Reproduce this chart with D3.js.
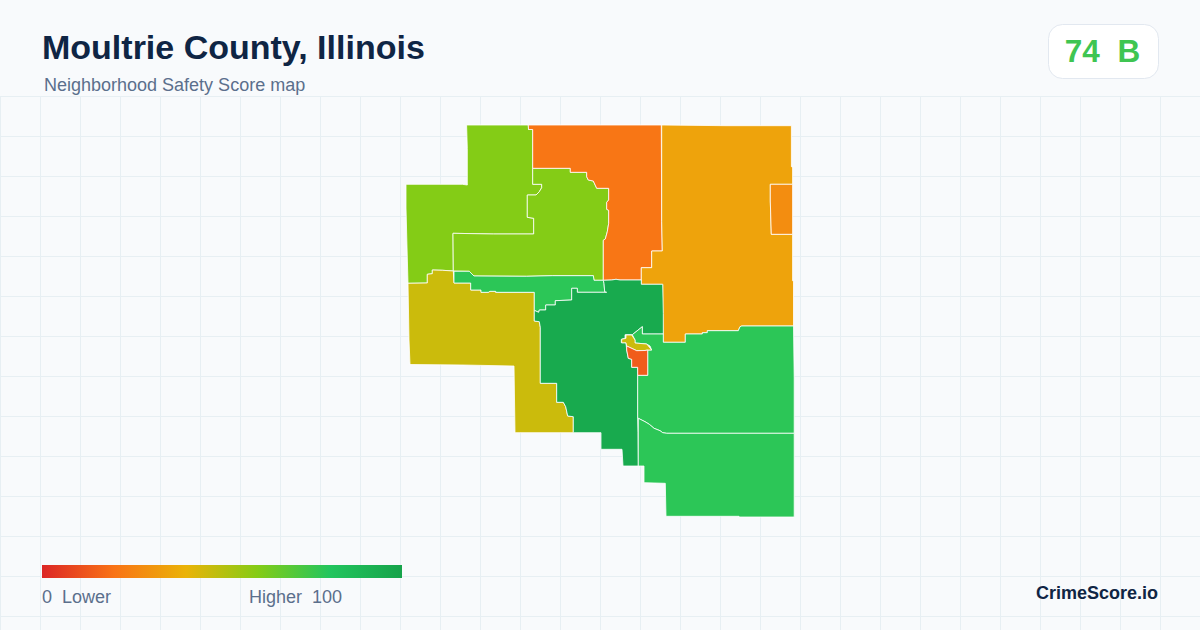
<!DOCTYPE html>
<meta charset="utf-8">
<style>
  body { margin: 0; background: #f8fafc; }
  text { font-family: "Liberation Sans", Arial, sans-serif; }
</style>

<!-- Load d3.js -->
<script src="https://cdnjs.cloudflare.com/ajax/libs/d3/7.8.5/d3.min.js"></script>

<div id="chart"></div>

<script>

  // legend stops and their colours
  const scoreStops = [0, 20, 40, 60, 80, 100]
  const scoreColors = ['#dc2626', '#f97316', '#eab308', '#84cc16', '#22c55e', '#16a34a']

  // safety score of each tract, same order as the outlines
  const tractScores = [60, 60, 21, 35, 28, 46, 78, 96, 78, 46, 14, 78]

  // tract outlines, in map units
  const tractOutlines = [
    [[66.6,5],[128.3,5],[128.5,9.5],[132.7,9.5],[132.7,64.3],[141.7,64.3],[141.7,67.7],[139.3,71.7],[136,75],[127.3,75],[127.3,97.3],[133.7,98.3],[133.7,114],[93.3,114],[53,113.3],[53.3,151],[42.7,150.3],[32.3,150],[32.3,153.7],[27.3,154.3],[27.3,163],[8,163.3],[7.3,138],[6,88],[6,64.3],[62.3,64.3],[67.3,65],[67.3,28.3]],
    [[132.7,48.3],[170.3,48.3],[170.3,52.3],[186.7,52.3],[186.7,56.7],[188.3,60],[193.3,61],[196.7,68.3],[208.7,68.3],[208.7,80],[206.7,82.3],[206.7,89.3],[208.7,90.3],[208.7,103.3],[207.3,111.7],[205.3,119],[203.3,120.3],[203.3,160.3],[194,160.3],[193.3,155.7],[152.3,155.7],[126.7,156.3],[74,156],[69.3,151.3],[53.3,151],[53,113.3],[93.3,114],[133.7,114],[133.7,98.3],[127.3,97.3],[127.3,75],[136,75],[139.3,71.7],[141.7,67.7],[141.7,64.3],[132.7,64.3]],
    [[128.3,5],[261.3,5],[261.7,101.7],[262.3,131],[251.7,131],[251.7,147.7],[241.3,147.7],[241.3,160],[220,160],[216,159.3],[211.7,160],[203.3,160.3],[203.3,120.3],[205.3,119],[207.3,111.7],[208.7,103.3],[208.7,90.3],[206.7,89.3],[206.7,82.3],[208.7,80],[208.7,68.3],[196.7,68.3],[193.3,61],[188.3,60],[186.7,56.7],[186.7,52.3],[170.3,52.3],[170.3,48.3],[132.7,48.3],[132.7,9.5],[128.5,9.5]],
    [[261.7,5],[326,5.7],[391.4,5.7],[391.4,46.7],[392.6,47],[392.6,64.3],[370.3,64.3],[370.3,81],[371.3,114.3],[392.6,114.3],[392.6,160.7],[393.5,161.7],[393.5,206],[341.7,206],[340,206.7],[338.3,210.7],[307.3,210.7],[307.3,212.7],[302.3,212.7],[302.3,214],[285.3,214],[285.3,222.3],[263.3,222.3],[262.7,194],[262.7,164.3],[241.3,164.3],[241.3,147.7],[251.7,147.7],[251.7,131],[262.3,131],[261.7,101.7]],
    [[370.3,64.3],[392.6,64.3],[392.6,114.3],[371.3,114.3],[370.3,81]],
    [[8,163.3],[27.3,163],[27.3,154.3],[32.3,153.7],[32.3,150],[42.7,150.3],[53.3,151],[54,163],[70.7,163],[70.7,170],[81,170],[81,172.3],[88.3,172.3],[90,171.3],[95.7,171.3],[95.7,172.3],[134.3,172.3],[134.3,201],[139.3,201.7],[140.3,207.3],[140.3,263.3],[156.7,263.3],[156.7,282.3],[163.3,282.3],[165.7,286.7],[167.7,296],[173.3,296.7],[173.3,312.7],[115,312.7],[114,246],[63,245],[10,244.5],[9,220]],
    [[54,151.3],[69.3,151.3],[74,156],[126.7,156.3],[152.3,155.7],[193.3,155.7],[194,160.3],[203.3,160.3],[204,163.3],[204.7,171.7],[206.7,172.3],[177.3,172.3],[177.3,168.3],[171.7,168.3],[171.7,180],[155.3,180.7],[155.3,185],[145.7,185],[145.7,190],[139.3,190],[138.7,192.3],[135,190.7],[134.3,190.7],[134.3,172.3],[95.7,172.3],[95.7,171.3],[90,171.3],[88.3,172.3],[81,172.3],[81,170],[70.7,170],[70.7,163],[54,163]],
    [[203.3,160.3],[211.7,160],[216,159.3],[220,160],[241.3,160],[241.3,164.3],[262.7,164.3],[263.3,193.3],[263.3,214],[242.3,214],[242.3,206.7],[232.3,214.7],[225,214.7],[225,218.3],[221.3,219.3],[221.3,222.7],[226,222.7],[226.7,230],[228.3,238.3],[231.7,239.3],[231.7,247.3],[237.7,247.3],[237.7,298.3],[238,312.7],[238.3,346],[223,346],[222,329.3],[201,329.3],[201,312.7],[173.3,312.7],[173.3,296.7],[167.7,296],[165.7,286.7],[163.3,282.3],[156.7,282.3],[156.7,263.3],[140.3,263.3],[140.3,207.3],[139.3,201.7],[134.3,201],[134.3,190.7],[135,190.7],[138.7,192.3],[139.3,190],[145.7,190],[145.7,185],[155.3,185],[155.3,180.7],[171.7,180],[171.7,168.3],[177.3,168.3],[177.3,172.3],[206.7,172.3],[204.7,171.7],[204,163.3]],
    [[263.3,222.3],[285.3,222.3],[285.3,214],[302.3,214],[302.3,212.7],[307.3,212.7],[307.3,210.7],[338.3,210.7],[340,206.7],[341.7,206],[393.5,206],[394.2,258],[394.2,313.3],[266.7,313.3],[262.7,312.7],[260,310.7],[254,308.3],[249.3,304.3],[245,301.7],[238.3,298.3],[237.7,298.3],[237.7,255.3],[247.7,255.3],[247.7,230],[251.7,230],[250,226],[246.7,224],[235,223],[235,220],[232.3,214.7],[242.3,206.7],[242.3,214],[263.3,214]],
    [[226,215],[231.7,215],[235,220],[235,223],[246.7,224],[251.7,230],[247.7,230],[245,230.5],[236.7,230.7],[226.7,226],[226,222.8],[221.7,222.8],[221.7,219.3],[226,218.3]],
    [[226.7,226],[236.7,230.7],[245,230.5],[247.7,230],[247.7,255.3],[237.7,255.3],[237.7,247.3],[231.7,247.3],[231.7,239.3],[228.3,238.3],[226.7,230]],
    [[238.3,298.3],[245,301.7],[249.3,304.3],[254,308.3],[260,310.7],[262.7,312.7],[266.7,313.3],[394.2,313.3],[394.2,397],[339,397],[339,396.3],[266,396.3],[265.3,363.3],[244,362.7],[244,346],[238.3,346]]
  ]

  const width = 1200
  const height = 630

  const svg = d3.select('#chart').
    append('svg').
    attr('width', width).
    attr('height', height).
    style('display', 'block')

  // background grid
  const grid = svg.append('g').attr('stroke', '#e7eff3').attr('stroke-width', 1)
  grid.selectAll('.v').
    data(d3.range(0.5, width, 40)).
    join('line').
    attr('class', 'v').
    attr('x1', d => d).attr('x2', d => d).
    attr('y1', 96.5).attr('y2', height)
  grid.selectAll('.h').
    data(d3.range(96.5, height, 40)).
    join('line').
    attr('class', 'h').
    attr('x1', 0).attr('x2', width).
    attr('y1', d => d).attr('y2', d => d)

  // map
  const x = d3.scaleLinear().domain([0, 400]).range([400, 800])
  const y = d3.scaleLinear().domain([0, 400]).range([120, 520])
  const color = d3.scaleLinear().domain(scoreStops).range(scoreColors)
  const outline = d3.line().x(d => x(d[0])).y(d => y(d[1])).curve(d3.curveLinearClosed)

  svg.append('g').
    selectAll('path').
    data(tractOutlines).
    join('path').
    attr('d', outline).
    attr('fill', (d, i) => color(tractScores[i])).
    attr('stroke', '#fff').
    attr('stroke-width', 0.8).
    attr('stroke-linejoin', 'round')

  // header
  svg.append('text').attr('x', 42).attr('y', 58.5).
    attr('font-size', 34).attr('font-weight', 700).attr('fill', '#0f2544').
    text('Moultrie County, Illinois')
  svg.append('text').attr('x', 44).attr('y', 91).
    attr('font-size', 18).attr('fill', '#5b6f8c').
    text('Neighborhood Safety Score map')

  // score badge
  svg.append('rect').attr('x', 1048.5).attr('y', 24.5).
    attr('width', 110).attr('height', 54).attr('rx', 14).
    attr('fill', '#fff').attr('stroke', '#e2e8f0')
  svg.append('text').attr('x', 1102.5).attr('y', 62).
    attr('text-anchor', 'middle').attr('xml:space', 'preserve').
    attr('font-size', 31.5).attr('font-weight', 700).attr('fill', '#3fc552').
    text('74  B')

  // legend
  const legendX = d3.scaleLinear().domain([0, 100]).range([42, 402])
  const gradient = svg.append('defs').append('linearGradient').attr('id', 'score-gradient')
  gradient.selectAll('stop').
    data(scoreStops).
    join('stop').
    attr('offset', d => d + '%').
    attr('stop-color', d => color(d))
  svg.append('rect').
    attr('x', legendX(0)).attr('y', 565).
    attr('width', legendX(100) - legendX(0)).attr('height', 13).
    attr('fill', 'url(#score-gradient)')
  svg.append('text').attr('x', 42).attr('y', 603).
    attr('xml:space', 'preserve').
    attr('font-size', 18).attr('fill', '#5b6f8c').
    text('0  Lower')
  svg.append('text').attr('x', 249).attr('y', 603).
    attr('xml:space', 'preserve').
    attr('font-size', 18).attr('fill', '#5b6f8c').
    text('Higher  100')

  // brand
  svg.append('text').attr('x', 1158).attr('y', 599).
    attr('text-anchor', 'end').
    attr('font-size', 18).attr('font-weight', 700).attr('fill', '#0f2544').
    text('CrimeScore.io')

</script>
